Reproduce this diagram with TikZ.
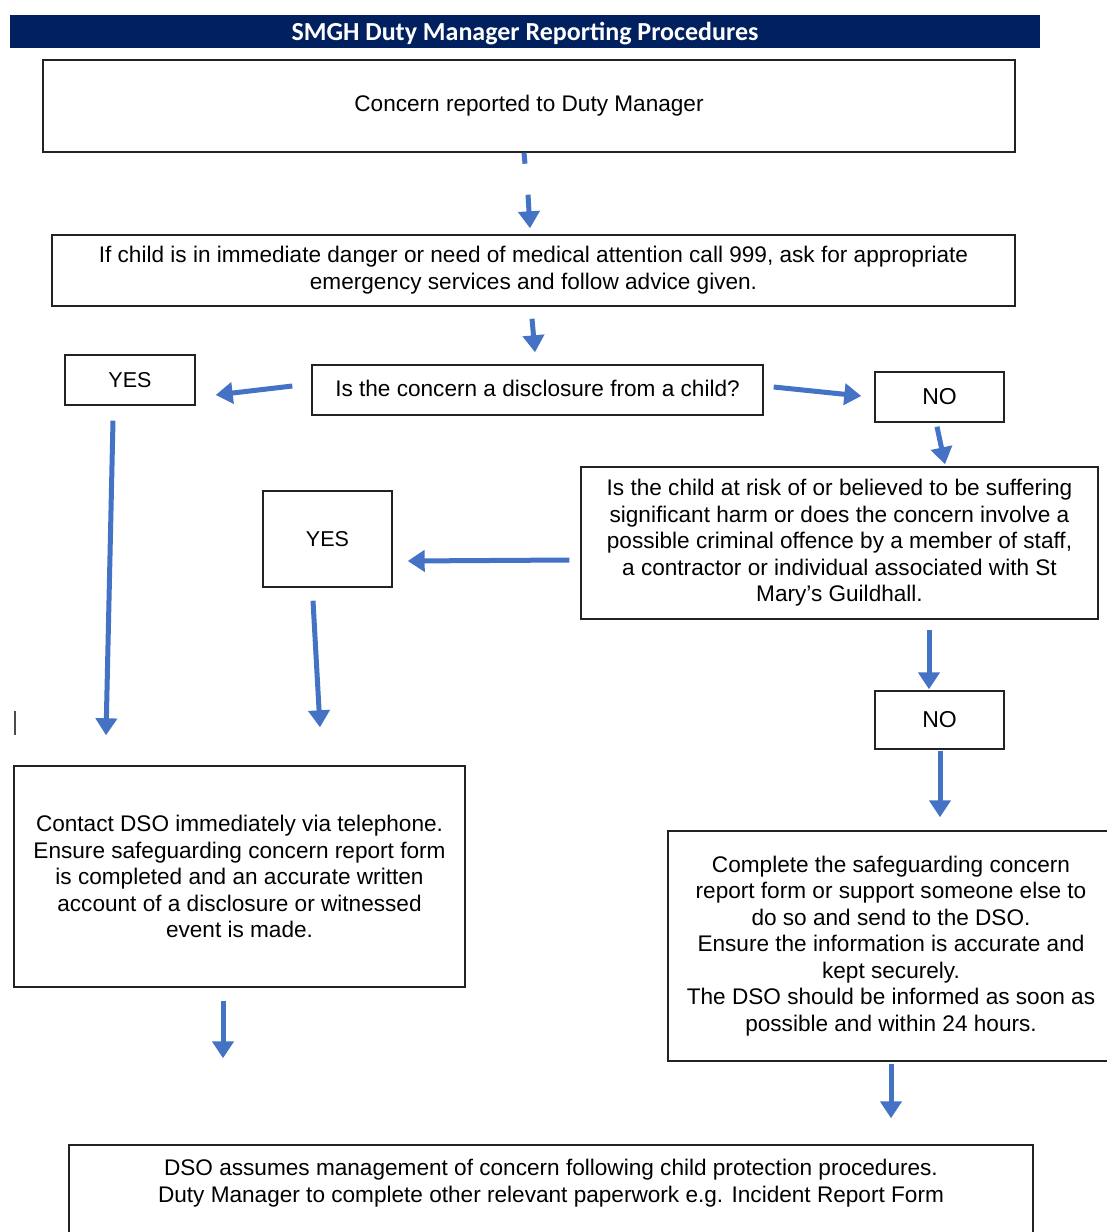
\documentclass[tikz,border=0pt]{standalone}
\usepackage{fontspec}
\setmainfont{Liberation Sans}
\newfontfamily\titlefont{Carlito}
\usetikzlibrary{arrows.meta}
\definecolor{navy}{HTML}{002060}
\definecolor{arrblue}{HTML}{4472C4}
\definecolor{boxline}{HTML}{222222}
\tikzset{
  box/.style={draw=boxline, line width=1.4pt, fill=white, align=center, inner sep=0pt,
    font=\fontsize{22.6pt}{26.5pt}\selectfont},
  smallbox/.style={box, font=\fontsize{21.5pt}{24pt}\selectfont},
  nobox/.style={box, font=\fontsize{23pt}{26pt}\selectfont},
  arr/.style={draw=arrblue, line width=5pt, -{Triangle[length=17pt,width=21pt]}},
  arrstub/.style={draw=arrblue, line width=5pt},
}
\begin{document}
\begin{tikzpicture}[x=1pt,y=-1pt]
\clip (0,0) rectangle (1107,1232);
\fill[white] (0,0) rectangle (1107,1232);

% title bar
\node[fill=navy, minimum width=1030pt, minimum height=33pt, inner sep=0pt] (titlebar) at (525,31.5) {};
\node[text=white, inner sep=0pt, font=\titlefont\bfseries\fontsize{26pt}{28pt}\selectfont] (title)
  at ([yshift=-2.5pt]titlebar.center) {SMGH Duty Manager Reporting Procedures};

% boxes
\node[box, minimum width=972pt, minimum height=92pt] (concern) at (529,106)
  {\raisebox{-2pt}{Concern reported to Duty Manager}};
\node[box, minimum width=963pt, minimum height=71pt, font=\fontsize{22.6pt}{27pt}\selectfont] (emerg) at (533.5,270.5)
  {If child is in immediate danger or need of medical attention call 999, ask for appropriate\\
   emergency services and follow advice given.};
\node[box, minimum width=451pt, minimum height=50pt] (disc) at (537.5,390)
  {\raisebox{3pt}{Is the concern a disclosure from a child?}};
\node[smallbox, minimum width=130pt, minimum height=50pt] (yes1) at (130,380) {YES};
\node[nobox, minimum width=129pt, minimum height=50pt] (no1) at (939.5,397) {\raisebox{-3pt}{NO}};
\node[box, minimum width=517pt, minimum height=152pt] (risk) at (839.5,543)
  {Is the child at risk of or believed to be suffering\\
   significant harm or does the concern involve a\\
   possible criminal offence by a member of staff,\\
   a contractor or individual associated with St\\
   Mary's Guildhall.};
\node[smallbox, minimum width=129pt, minimum height=96pt] (yes2) at (327.5,539) {YES};
\node[nobox, minimum width=129pt, minimum height=58pt] (no2) at (939.5,720) {\raisebox{-2pt}{NO}};
\node[box, minimum width=451pt, minimum height=221pt] (contact) at (239.5,876.5)
  {Contact DSO immediately via telephone.\\
   Ensure safeguarding concern report form\\
   is completed and an accurate written\\
   account of a disclosure or witnessed\\
   event is made.};
\node[box, minimum width=446pt, minimum height=230pt] (complete) at (891,946)
  {Complete the safeguarding concern\\
   report form or support someone else to\\
   do so and send to the DSO.\\
   Ensure the information is accurate and\\
   kept securely.\\
   The DSO should be informed as soon as\\
   possible and within 24 hours.};
\node[box, minimum width=964pt, minimum height=106pt, font=\fontsize{22.6pt}{27pt}\selectfont] (bottom) at (551,1198)
  {DSO assumes management of concern following child protection procedures.\\
   Duty Manager to complete other relevant paperwork e.g. Incident Report Form\\
   \strut};

% connectors
\draw[arrstub] ([xshift=-5pt]concern.south) -- ([xshift=-4pt,yshift=-11pt]concern.south);
\draw[arr] ([xshift=-1pt,yshift=-42pt]concern.south) -- ([xshift=-3.5pt,yshift=6pt]emerg.north);
\draw[arr] ([xshift=-1.5pt,yshift=-12pt]emerg.south) -- ([xshift=-2.5pt,yshift=12pt]disc.north);
\draw[arr] ([xshift=-19pt,yshift=4pt]disc.west) -- ([xshift=20pt,yshift=-15pt]yes1.east);
\draw[arr] ([xshift=10pt,yshift=3pt]disc.east) -- ([xshift=-13pt,yshift=1pt]no1.west);
\draw[arr] ([xshift=-2.5pt,yshift=-4pt]no1.south) -- ([xshift=105.5pt,yshift=2pt]risk.north);
\draw[arr] ([xshift=-11pt,yshift=-17pt]risk.west) -- ([xshift=15pt,yshift=-22pt]yes2.east);
\draw[arr] ([xshift=-17pt,yshift=-15pt]yes1.south) -- ([xshift=-133.5pt,yshift=30pt]contact.north);
\draw[arr] ([xshift=-14.5pt,yshift=-13pt]yes2.south) -- ([xshift=80.5pt,yshift=38pt]contact.north);
\draw[arr] ([xshift=89.5pt,yshift=-10pt]risk.south) -- ([xshift=-10.5pt,yshift=1pt]no2.north);
\draw[arr] ([xshift=0.5pt,yshift=-1pt]no2.south) -- ([xshift=49pt,yshift=13pt]complete.north);
\draw[arr] ([xshift=-16.5pt,yshift=-13pt]contact.south) -- ([xshift=-328pt,yshift=86pt]bottom.north);
\draw[arr] ([yshift=-2pt]complete.south) -- ([xshift=340pt,yshift=26pt]bottom.north);

% stray cursor mark
\draw[line width=2pt, draw=black!70] (15,711) -- (15,735);
\end{tikzpicture}
\end{document}
